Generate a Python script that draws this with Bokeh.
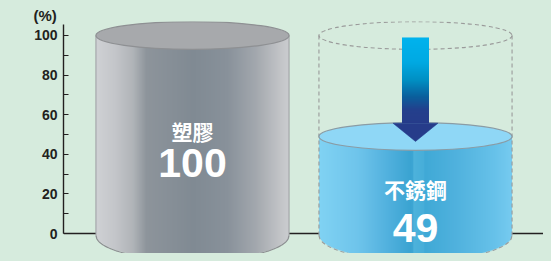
import numpy as np
from bokeh.plotting import figure
from bokeh.models import Range1d, FixedTicker, Span, GlobalInlineStyleSheet
from bokeh.core.properties import value
from bokeh.embed import file_html
from bokeh.resources import INLINE

# ---------------- data ----------------
materials = ["塑膠", "不銹鋼"]
percent = [100, 49]
y_ticks = [0, 20, 40, 60, 80, 100]
y_minor_ticks = [10, 30, 50, 70, 90]
unit_label = "(%)"

# ---------------- style / layout ----------------
BG = "#d6ebdd"
INK = "#231f20"
W, H = 543, 253
LEFT, TOP = 63, 21
PXY = 1.98   # screen px per y unit (for raster resolution)
PXX = 223.0  # screen px per x unit

x_range = Range1d(0.4215, 2.574)
y_range = Range1d(-10.1, 107.07)

R = 0.433          # cylinder radius (x units)
RY_TOP = 7.0       # top ellipse half height (y units)
RY_BOT = 12.6      # bottom ellipse half height (y units)
BASE = -1.0        # bottom ellipse centre

name_y = [52, 22.7]
num_y = [35.4, 3.0]

gray_stops = [(-1.0, "#cfd1d4"), (-0.8, "#c3c5c9"), (-0.62, "#b0b4b8"), (-0.48, "#8d949b"),
              (0.0, "#808a93"), (0.35, "#88919a"), (0.65, "#a3a8ae"), (0.9, "#c2c4c7"), (1.0, "#cbcdd0")]
blue_stops = [(-1.0, "#80d2f3"), (-0.6, "#6ec4eb"), (-0.3, "#52b1de"), (-0.05, "#3aa3d1"),
              (-0.03, "#3da6d3"), (-0.02, "#4db2db"), (0.08, "#47aed9"), (0.095, "#40a9d6"),
              (0.4, "#4fb1dd"), (0.8, "#66c1e9"), (1.0, "#77cbf0")]
arrow_stops = [(0.0, "#00b3ee"), (0.3, "#00a9e2"), (0.5, "#0090c4"), (0.7, "#0a5e9c"),
               (0.85, "#243f8c"), (1.0, "#263c8a")]
body_stops = [gray_stops, blue_stops]
top_fill = ["#a7a9ac", "#8fd7f6"]
top_line = ["#8e9093", "#8a9ca5"]


def hex2rgb(h):
    h = h.lstrip("#")
    return np.array([int(h[i:i + 2], 16) for i in (0, 2, 4)], dtype=float)


def colors_at(stops, ts):
    pos = np.array([s[0] for s in stops])
    rgb = np.array([hex2rgb(s[1]) for s in stops])
    return np.stack([np.interp(ts, pos, rgb[:, k]) for k in range(3)], axis=-1)


def rgba_image(rgb, alpha):
    rows, cols = alpha.shape
    img = np.empty((rows, cols), dtype=np.uint32)
    view = img.view(dtype=np.uint8).reshape((rows, cols, 4))
    view[..., :3] = np.clip(np.round(rgb), 0, 255).astype(np.uint8)
    view[..., 3] = np.clip(np.round(alpha * 255), 0, 255).astype(np.uint8)
    return img


p = figure(width=W, height=H, x_range=x_range, y_range=y_range,
           output_backend="svg", toolbar_location=None,
           x_axis_location=None, y_axis_location="left",
           min_border_left=LEFT, min_border_right=0, min_border_top=TOP, min_border_bottom=0)
p.stylesheets = [GlobalInlineStyleSheet(css="body{background:%s;}" % BG)]
p.background_fill_color = BG
p.border_fill_color = BG
p.outline_line_color = None
p.grid.visible = False

p.title.text = unit_label
p.title.align = "left"
p.title.offset = -30
p.title.standoff = -5
p.title.text_font = "Liberation Sans"
p.title.text_font_style = "bold"
p.title.text_font_size = "15px"
p.title.text_color = INK

ax = p.yaxis[0]
ax.ticker = FixedTicker(ticks=y_ticks, minor_ticks=y_minor_ticks)
ax.bounds = (0, 105.5)
ax.axis_line_color = INK
ax.axis_line_width = 1.4
ax.major_tick_in = 5
ax.major_tick_out = 0
ax.minor_tick_in = 5
ax.minor_tick_out = 0
ax.major_tick_line_color = INK
ax.minor_tick_line_color = INK
ax.major_tick_line_width = 1.2
ax.minor_tick_line_width = 1.2
ax.major_label_standoff = 6
ax.major_label_text_font = "Liberation Sans"
ax.major_label_text_font_style = "bold"
ax.major_label_text_font_size = "14px"
ax.major_label_text_color = INK

p.add_layout(Span(location=0, dimension="width", line_color=INK, line_width=1.3, level="underlay"))

ref = max(percent)
for i, v in enumerate(percent):
    cx = i + 1
    if v < ref:
        p.ellipse(x=[cx], y=[ref], width=2 * R, height=2 * RY_TOP, fill_color=None,
                  line_color="#9a9a9a", line_width=1.1, line_dash="4 3")
    # body as a raster with a horizontal shading gradient
    x0, y0 = cx - R, BASE - RY_BOT
    dw, dh = 2 * R, v - y0
    cols = int(dw * PXX * 2)
    rows = int(dh * PXY * 2)
    xc = x0 + (np.arange(cols) + 0.5) / cols * dw
    yc = y0 + (np.arange(rows) + 0.5) / rows * dh
    t = np.clip((xc - cx) / R, -1, 1)
    ybot = BASE - RY_BOT * np.sqrt(1 - t ** 2)
    alpha = np.clip((yc[:, None] - ybot[None, :]) * PXY + 0.5, 0, 1)
    rgb = np.broadcast_to(colors_at(body_stops[i], t)[None, :, :], (rows, cols, 3))
    p.image_rgba(image=[rgba_image(rgb, alpha)], x=x0, y=y0, dw=dw, dh=dh)

    tt = np.linspace(-1, 1, 200)
    bx = cx + R * tt
    by = BASE - RY_BOT * np.sqrt(1 - tt ** 2)
    if v < ref:
        p.line(bx, by, line_color="#9a9a9a", line_width=1.1, line_dash="4 3")
        p.segment(x0=[cx - R, cx + R], y0=[BASE, BASE], x1=[cx - R, cx + R], y1=[ref, ref],
                  line_color="#9a9a9a", line_width=1.1, line_dash="4 3")
    else:
        p.line(bx, by, line_color="#8d8f92", line_width=1.2)
        p.segment(x0=[cx - R, cx + R], y0=[BASE, BASE], x1=[cx - R, cx + R], y1=[v, v],
                  line_color="#9c9ea1", line_width=1)
    p.ellipse(x=[cx], y=[v], width=2 * R, height=2 * RY_TOP, fill_color=top_fill[i],
              line_color=top_line[i], line_width=1.2)

# arrow showing the reduction from the reference level to the stainless value
acx = 2
a_top = ref - 1
a_tip = percent[1] - 2.5
a_base = a_tip + 9.2
shaft_hw = 0.0605
head_hw = 0.101
srows = int((a_top - a_base) * PXY * 2)
fr = 1 - (np.arange(srows) + 0.5) / srows        # row 0 is the bottom of the shaft
srgb = np.broadcast_to(colors_at(arrow_stops, fr)[:, None, :], (srows, 4, 3))
p.image_rgba(image=[rgba_image(srgb, np.ones((srows, 4)))], x=acx - shaft_hw, y=a_base,
             dw=2 * shaft_hw, dh=a_top - a_base)
p.patch(x=[acx - head_hw, acx + head_hw, acx], y=[a_base, a_base, a_tip],
        fill_color="#263c8a", line_color="#263c8a", line_width=0.5)

xs = [i + 1 for i in range(len(materials))]
p.text(x=xs, y=name_y, text=materials, text_font=value("Noto Sans CJK TC"),
       text_font_style="bold", text_font_size="21px", text_color="white",
       text_align="center", text_baseline="middle")
p.text(x=xs, y=num_y, text=[str(v) for v in percent], text_font=value("Liberation Sans"),
       text_font_style="bold", text_font_size="41px", text_color="white",
       text_align="center", text_baseline="middle")

open("out.html", "w").write(file_html(p, INLINE))
